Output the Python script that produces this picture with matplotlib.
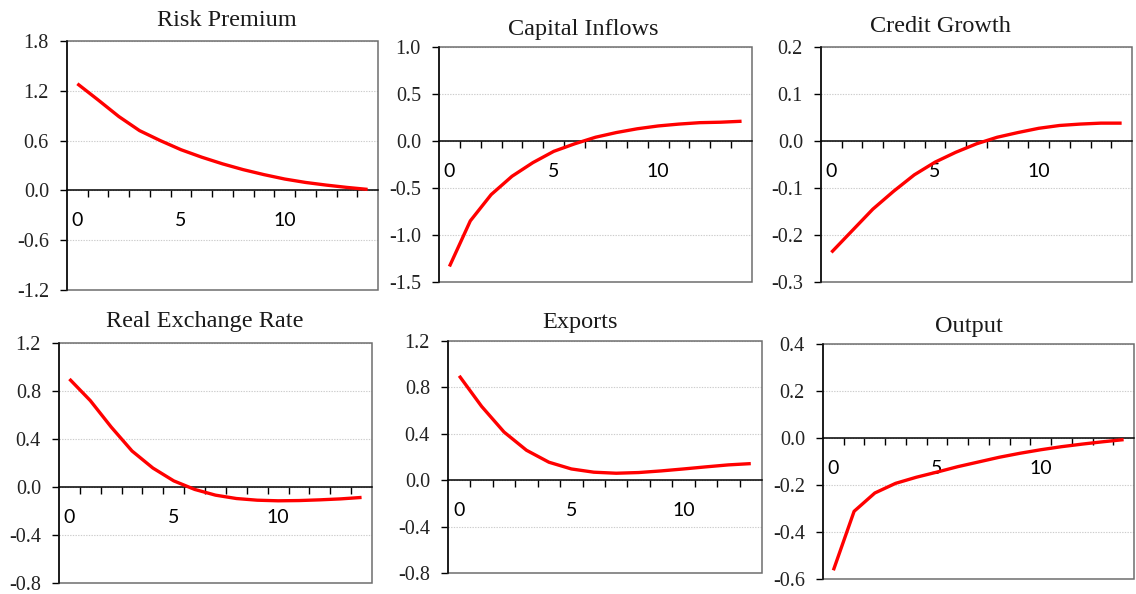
import numpy as np
import matplotlib
matplotlib.use("Agg")
import matplotlib.pyplot as plt
from matplotlib.patches import Rectangle
from matplotlib.ticker import FixedLocator, FormatStrFormatter

plt.rcParams['axes.unicode_minus'] = False

# ---- data ----
titles = ["Risk Premium", "Capital Inflows", "Credit Growth",
          "Real Exchange Rate", "Exports", "Output"]

risk_premium = [1.285, 1.09, 0.89, 0.72, 0.60, 0.49, 0.40, 0.32, 0.25, 0.19,
                0.137, 0.096, 0.064, 0.036, 0.012]
capital_inflows = [-1.335, -0.85, -0.57, -0.375, -0.23, -0.11, -0.03, 0.04,
                   0.09, 0.13, 0.16, 0.18, 0.195, 0.20, 0.21]
credit_growth = [-0.237, -0.191, -0.145, -0.107, -0.072, -0.045, -0.024,
                 -0.006, 0.008, 0.018, 0.027, 0.033, 0.036, 0.038, 0.038]
real_exchange_rate = [0.90, 0.72, 0.50, 0.30, 0.158, 0.051, -0.02, -0.068,
                      -0.096, -0.11, -0.115, -0.113, -0.107, -0.099, -0.087]
exports = [0.90, 0.636, 0.415, 0.258, 0.155, 0.097, 0.069, 0.06, 0.066,
           0.08, 0.097, 0.115, 0.132, 0.143]
output = [-0.563, -0.312, -0.234, -0.193, -0.167, -0.145, -0.122, -0.102,
          -0.082, -0.065, -0.050, -0.037, -0.026, -0.016, -0.007]

series = [risk_premium, capital_inflows, credit_growth,
          real_exchange_rate, exports, output]

y_ticks = [
    [-1.2, -0.6, 0.0, 0.6, 1.2, 1.8],
    [-1.5, -1.0, -0.5, 0.0, 0.5, 1.0],
    [-0.3, -0.2, -0.1, 0.0, 0.1, 0.2],
    [-0.8, -0.4, 0.0, 0.4, 0.8, 1.2],
    [-0.8, -0.4, 0.0, 0.4, 0.8, 1.2],
    [-0.6, -0.4, -0.2, 0.0, 0.2, 0.4],
]
x_labels = [0, 5, 10]

# ---- layout (pixels: left, right, top, bottom) ----
W, H = 1136, 594
boxes = [(67, 378, 41, 290), (439, 752, 47, 282), (821, 1132, 47, 282),
         (59, 372, 343, 583), (448, 762, 341, 573), (823, 1134, 344, 579)]
title_pos = [(227, 26), (583, 34.5), (940, 32), (205, 327), (580, 328), (969, 332)]

fig = plt.figure(figsize=(W / 100, H / 100), dpi=100)

serif = ['Liberation Serif', 'DejaVu Serif']
sans = 'Lato'

for i in range(6):
    l, r, t, b = boxes[i]
    ax = fig.add_axes([l / W, 1 - b / H, (r - l) / W, (b - t) / H])
    vals = series[i]
    n = len(vals)
    x = np.arange(n)
    ax.plot(x, vals, color='#ff0000', lw=2.4, solid_capstyle='butt', zorder=5)
    ax.set_xlim(-0.5, n - 0.5)
    yt = y_ticks[i]
    ax.set_ylim(yt[0], yt[-1])
    ax.set_yticks(yt)
    ax.yaxis.set_major_formatter(FormatStrFormatter('%.1f'))
    ax.yaxis.grid(True, color='#cccccc', lw=0.8, ls=(0, (1.2, 1.2)))
    ax.set_axisbelow(True)

    ax.set_xticks(x_labels)
    ax.set_xticklabels([str(v) for v in x_labels])
    ax.xaxis.set_minor_locator(FixedLocator(np.arange(0.5, n - 0.5, 1)))
    ax.tick_params(axis='x', which='major', length=0, pad=15.5,
                   labelsize=14, labelfontfamily=sans, labelcolor='black')
    ax.tick_params(axis='x', which='minor', length=5, width=1,
                   direction='out', color='black')
    ax.tick_params(axis='y', which='major', length=5, width=1,
                   direction='out', pad=8, color='black',
                   labelsize=14.5, labelfontfamily='Liberation Serif',
                   labelcolor='#222222')

    ax.spines['bottom'].set_position(('data', 0))
    ax.spines['bottom'].set_color('black')
    ax.spines['bottom'].set_linewidth(1.1)
    ax.spines['left'].set_color('black')
    ax.spines['left'].set_linewidth(1.1)
    ax.spines['top'].set_visible(False)
    ax.spines['right'].set_visible(False)
    ax.add_patch(Rectangle((0, 0), 1, 1, transform=ax.transAxes, fill=False,
                           ec='#6e6e6e', lw=1.1, clip_on=False, zorder=1))

    tx, ty = title_pos[i]
    fig.text(tx / W, 1 - ty / H, titles[i], ha='center', va='baseline',
             family=serif, fontsize=17.5, color='#1a1a1a')

fig.savefig('out.png', dpi=100)
